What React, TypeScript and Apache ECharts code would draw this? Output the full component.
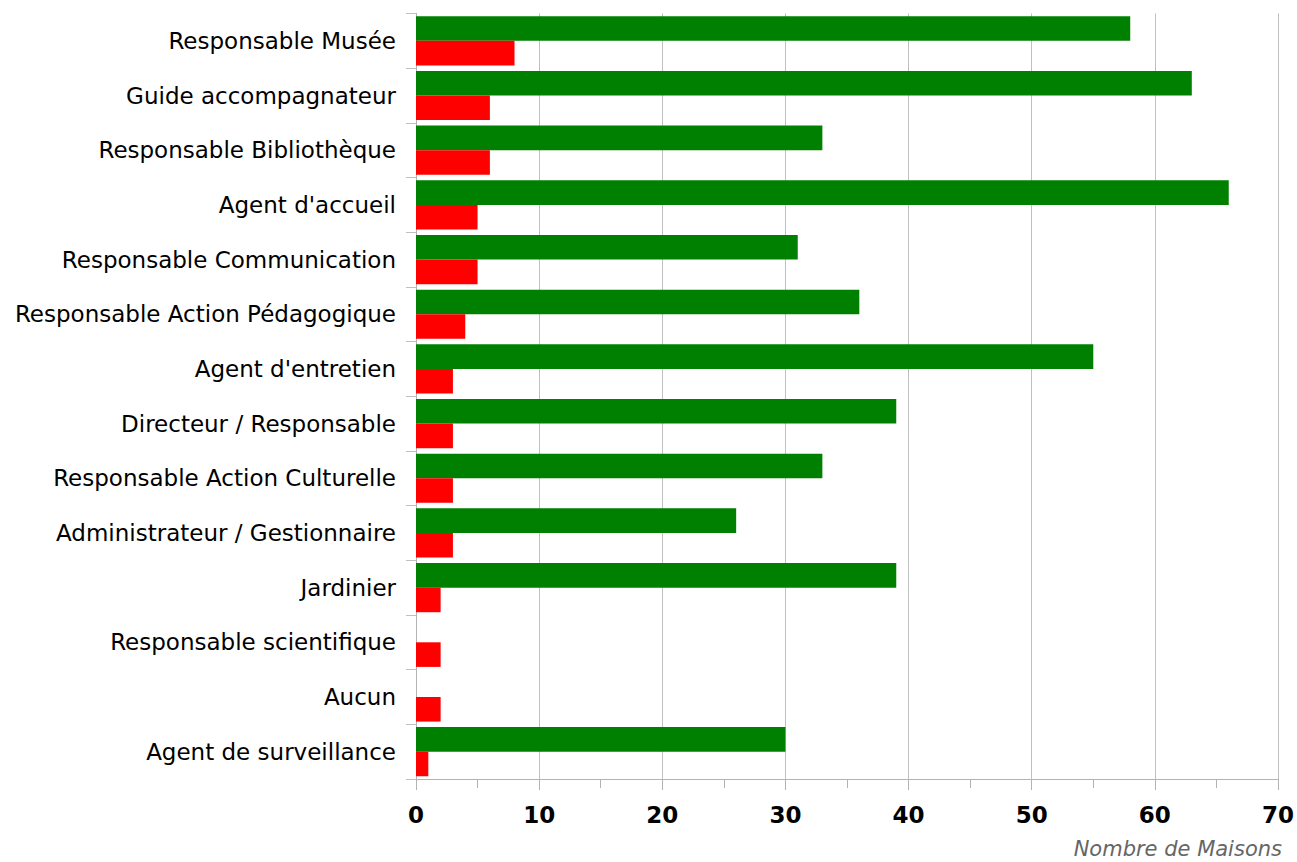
import React, { useEffect, useRef } from "react";
import * as echarts from "echarts";

const categories = [
  "Responsable Musée",
  "Guide accompagnateur",
  "Responsable Bibliothèque",
  "Agent d'accueil",
  "Responsable Communication",
  "Responsable Action Pédagogique",
  "Agent d'entretien",
  "Directeur / Responsable",
  "Responsable Action Culturelle",
  "Administrateur / Gestionnaire",
  "Jardinier",
  "Responsable scientifique",
  "Aucun",
  "Agent de surveillance",
];
const greenValues = [58, 63, 33, 66, 31, 36, 55, 39, 33, 26, 39, 0, 0, 30];
const redValues = [8, 6, 6, 5, 5, 4, 3, 3, 3, 3, 2, 2, 2, 1];
const xAxisTitle = "Nombre de Maisons";

export default function App() {
  const ref = useRef<HTMLDivElement>(null);
  useEffect(() => {
    if (!ref.current) return;
    const chart = echarts.init(ref.current, undefined, { renderer: "svg" });
    const font = "'DejaVu Sans', Verdana, sans-serif";
    chart.setOption({
      animation: false,
      backgroundColor: "#ffffff",
      grid: { left: 416, right: 16, top: 13.5, bottom: 83, containLabel: false },
      xAxis: {
        type: "value",
        min: 0,
        max: 70,
        interval: 10,
        name: xAxisTitle,
        nameLocation: "end",
        nameGap: 0,
        nameTextStyle: {
          fontFamily: font,
          fontStyle: "italic",
          fontSize: 21,
          color: "#666666",
          align: "right",
          verticalAlign: "top",
          padding: [59, -4, 0, 0],
        },
        axisLine: { show: true, lineStyle: { color: "#b3b3b3", width: 1 } },
        axisTick: { show: true, length: 11, lineStyle: { color: "#b3b3b3" } },
        minorTick: { show: true, splitNumber: 2, length: 9, lineStyle: { color: "#b3b3b3" } },
        splitLine: { show: true, lineStyle: { color: "#c0c0c0", width: 1 } },
        axisLabel: {
          fontFamily: font,
          fontWeight: "bold",
          fontSize: 23,
          color: "#000000",
          margin: 24,
        },
      },
      yAxis: {
        type: "category",
        data: categories,
        inverse: true,
        axisLine: { show: true, lineStyle: { color: "#b3b3b3", width: 1 } },
        axisTick: { show: true, length: 10, lineStyle: { color: "#c0c0c0" } },
        axisLabel: {
          fontFamily: font,
          fontSize: 23,
          color: "#000000",
          margin: 20,
        },
      },
      series: [
        {
          type: "bar",
          data: greenValues,
          itemStyle: { color: "#008000" },
          barGap: "0%",
          barCategoryGap: "10%",
        },
        {
          type: "bar",
          data: redValues,
          itemStyle: { color: "#ff0000" },
          barGap: "0%",
          barCategoryGap: "10%",
        },
      ],
    });
    return () => chart.dispose();
  }, []);
  return (
    <div
      ref={ref}
      style={{ position: "fixed", left: 0, top: 0, width: 1297, height: 862 }}
    />
  );
}
